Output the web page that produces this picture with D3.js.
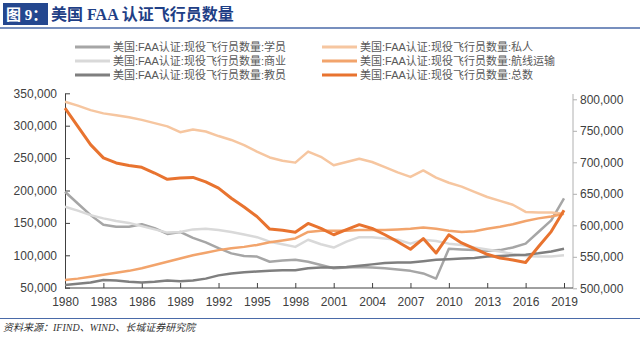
<!DOCTYPE html>
<html><head><meta charset="utf-8">
<script src="https://cdn.jsdelivr.net/npm/d3@7"></script>
<style>
body{margin:0;background:#fff;}
svg{display:block;}
</style></head>
<body>
<svg id="c" width="640" height="337"></svg>
<script>
const years = [1980,1981,1982,1983,1984,1985,1986,1987,1988,1989,1990,1991,1992,1993,1994,1995,1996,1997,1998,1999,2000,2001,2002,2003,2004,2005,2006,2007,2008,2009,2010,2011,2012,2013,2014,2015,2016,2017,2018,2019];
const tickYears = [1980,1983,1986,1989,1992,1995,1998,2001,2004,2007,2010,2013,2016,2019];
const leftTicks = [50000,100000,150000,200000,250000,300000,350000];
const rightTicks = [500000,550000,600000,650000,700000,750000,800000];
// values in thousands
const student = [198,180,162,147,144,144,148,142,133,136,127,120,111,103,99,98,90,92,93,90,85,80,81,82,81,80,78,76,72,64,110,109,108,107,108,112,118,136,154,188];
const commercial = [175,169,162,157,153,150,145,140,135,136,140,141,139,136,132,128,121,117,113,124,117,112,121,128,128,126,124,118,124,122,118,116,112,109,106,102,99,98,98,100];
const instructor = [54,56,58,62,61,59,58,59,61,60,61,64,69,72,74,75,76,77,77,80,81,81,82,84,86,88,89,89,91,93,94,95,96,98,99,100,101,103,106,110];
const privatePilots = [337,331,324,319,316,313,309,304,299,290,294,291,284,278,270,260,251,246,243,260,252,239,244,249,244,236,228,221,231,220,212,206,198,190,184,178,167,166,166,164];
const airline = [62,64,67,70,73,76,80,85,90,95,100,104,108,111,113,116,120,123,126,136,138,138,138,139,139,139,140,141,143,141,138,136,137,141,144,148,153,157,160,164];
const total = [786,757,728,707,699,695,692,683,673,675,676,669,659,643,629,614,594,592,589,603,595,585,593,601,595,585,574,562,579,556,585,572,563,554,548,545,541,566,590,624];

const seriesNames = ["美国:FAA认证:现役飞行员数量:学员","美国:FAA认证:现役飞行员数量:商业","美国:FAA认证:现役飞行员数量:教员","美国:FAA认证:现役飞行员数量:私人","美国:FAA认证:现役飞行员数量:航线运输","美国:FAA认证:现役飞行员数量:总数"];
const seriesData = [student, commercial, instructor, privatePilots, airline, total];
const seriesColors = ["#a6a6a6","#d9d9d9","#7f7f7f","#f6c6a0","#f2a46c","#e8732f"];
const seriesAxis = ["L","L","L","L","L","R"];

const svg = d3.select("#c");
const font = "'Liberation Sans','Noto Sans CJK SC',Arial,sans-serif";

// header
svg.append("rect").attr("x",3).attr("y",3).attr("width",45).attr("height",22).attr("fill","#24478f");
svg.append("text").attr("x",6).attr("y",20).attr("fill","#fff").attr("font-size",15).attr("font-weight","bold")
  .attr("font-family","'Liberation Serif','Noto Sans CJK SC',serif").text("图 9：");
svg.append("text").attr("x",51).attr("y",20).attr("fill","#1f3f86").attr("font-size",16).attr("font-weight","bold")
  .attr("font-family","'Liberation Serif','Noto Sans CJK SC',serif").text("美国 FAA 认证飞行员数量");
svg.append("line").attr("x1",0).attr("x2",640).attr("y1",28).attr("y2",28).attr("stroke","#4a6aa8").attr("stroke-width",1.5);

// footer
svg.append("line").attr("x1",0).attr("x2",640).attr("y1",318.5).attr("y2",318.5).attr("stroke","#4a6aa8").attr("stroke-width",1.2);
svg.append("text").attr("x",3).attr("y",331).attr("fill","#333").attr("font-size",10).attr("font-style","italic")
  .attr("font-family","'Liberation Serif','Noto Sans CJK SC',serif").text("资料来源：IFIND、WIND、长城证券研究院");

// scales
const x = d3.scaleLinear().domain([1980,2019]).range([65,564]);
const yL = d3.scaleLinear().domain([50000,350000]).range([287.7,93.3]);
const yR = d3.scaleLinear().domain([500000,800000]).range([288.3,99.3]);
const fmt = d3.format(",");

// left axis
const gL = svg.append("g").attr("transform","translate(65,0)")
  .call(d3.axisLeft(yL).tickValues(leftTicks).tickSize(-5).tickSizeOuter(0).tickPadding(8).tickFormat(fmt));
gL.select(".domain").attr("stroke","#404040");
gL.selectAll(".tick line").attr("stroke","#404040");
gL.selectAll("text").attr("font-family",font).attr("font-size",12).attr("fill","#404040");

// right axis
const gR = svg.append("g").attr("transform","translate(573,0)")
  .call(d3.axisRight(yR).tickValues(rightTicks).tickSize(4).tickSizeOuter(0).tickPadding(3).tickFormat(fmt));
gR.select(".domain").remove();
gR.append("line").attr("x1",0).attr("x2",0).attr("y1",94).attr("y2",288).attr("stroke","#b0b0b0");
gR.selectAll(".tick line").attr("stroke","#b0b0b0");
gR.selectAll("text").attr("font-family",font).attr("font-size",12).attr("fill","#404040");

// bottom axis
const gB = svg.append("g").attr("transform","translate(0,288)")
  .call(d3.axisBottom(x).tickValues(tickYears).tickSize(-5).tickSizeOuter(0).tickPadding(9).tickFormat(d3.format("d")));
gB.select(".domain").remove();
gB.append("line").attr("x1",65).attr("x2",573).attr("y1",0).attr("y2",0).attr("stroke","#404040");
gB.selectAll(".tick line").attr("stroke","#404040");
gB.selectAll("text").attr("font-family",font).attr("font-size",12).attr("fill","#404040");

// lines
seriesData.forEach((vals,si)=>{
  const yS = seriesAxis[si]==="L" ? yL : yR;
  const line = d3.line().x((d,i)=>x(years[i])).y(d=>yS(d*1000));
  svg.append("path").datum(vals).attr("d",line).attr("fill","none")
    .attr("stroke",seriesColors[si]).attr("stroke-width", si===5?3:2.5).attr("stroke-linejoin","round");
});

// legend
const legX = [75,322], legY = [47,61,75];
seriesNames.forEach((n,i)=>{
  const col = Math.floor(i/3), row = i%3;
  const g = svg.append("g").attr("transform",`translate(${legX[col]},${legY[row]})`);
  g.append("line").attr("x1",0).attr("x2",35).attr("y1",0).attr("y2",0).attr("stroke",seriesColors[i]).attr("stroke-width",3);
  g.append("text").attr("x",38).attr("y",4).attr("font-family",font).attr("font-size",11).attr("fill","#595959").text(n);
});
</script>
</body></html>
